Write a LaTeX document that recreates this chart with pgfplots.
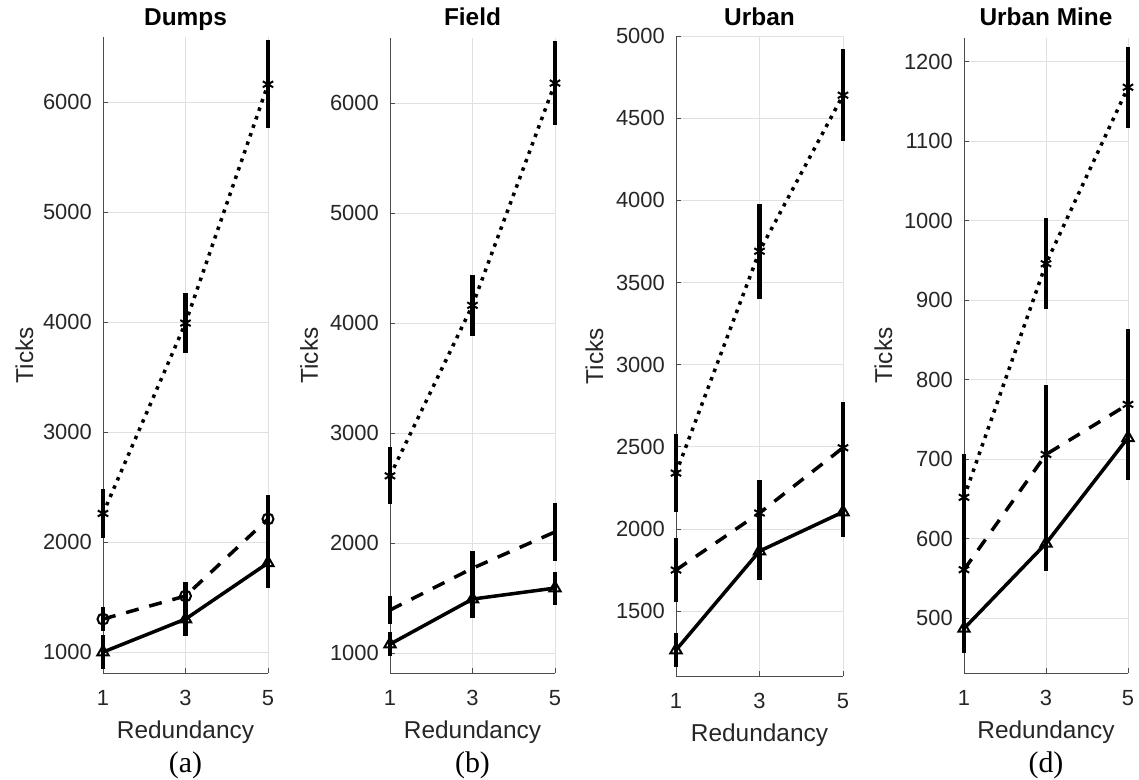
\documentclass[border=0pt]{standalone}
\usepackage{fontspec}
\setmainfont{Liberation Sans}
\newfontfamily\serifcap{Liberation Serif}
\usepackage{pgfplots}
\pgfplotsset{compat=1.18}
\definecolor{axc}{rgb}{0.3,0.3,0.3}
\definecolor{tickc}{rgb}{0.15,0.15,0.15}
\definecolor{gridc}{rgb}{0.88,0.88,0.88}
\pgfplotsset{
  panel/.style={
    scale only axis, clip=false,
    axis x line*=bottom, axis y line*=left,
    axis line style={draw=axc, line width=0.8bp, -},
    xmin=1, xmax=5, xtick={1,3,5},
    tick align=inside, major tick length=5bp,
    tick style={draw=axc, line width=0.8bp},
    grid=major, grid style={draw=gridc, line width=0.8bp},
    ticklabel style={font=\fontsize{22}{24}\selectfont, text=tickc, inner sep=0pt},
    /pgf/number format/assume math mode=true,
    /pgf/number format/1000 sep={},
    xticklabel style={anchor=base, yshift=-32bp},
    yticklabel style={anchor=east, xshift=-11bp},
    title style={font=\bfseries\fontsize{24.5}{26}\selectfont, anchor=base, inner sep=0pt},
    label style={font=\fontsize{24.5}{26}\selectfont, text=tickc, inner sep=0pt},
    xlabel=Redundancy, ylabel=Ticks,
    xlabel style={at={(axis description cs:0.5,0)}, anchor=base, yshift=-65bp},
  },
  eb/.style={error bars/.cd, y dir=both, y explicit, error mark=none,
    error bar style={solid, line width=4.5bp, black}},
  dotp/.style={black, line width=3.5bp, dash pattern=on 3.5bp off 5.5bp, mark=asterisk, mark size=6bp,
    mark options={solid, line width=2bp}},
  dashp/.style={black, line width=3.5bp, dash pattern=on 13bp off 11bp,
    mark options={solid, line width=2bp}},
  solp/.style={black, line width=3.5bp, solid, mark=triangle, mark size=6.5bp,
    mark options={solid, line width=2bp}},
}
\begin{document}
\begin{tikzpicture}
\useasboundingbox (0,0) rectangle (1139bp,780bp);
% (a) Dumps
\begin{axis}[panel, at={(103bp,107bp)}, anchor=south west, width=165bp, height=636bp,
  ymin=810, ymax=6590, ytick={1000,2000,...,6000},
  title=Dumps, title style={at={(axis description cs:0.5,1)}, yshift=5.5bp},
  ylabel style={at={(axis description cs:-0.4242,0.5)}, anchor=base}]
\addplot+[dotp, eb] coordinates {(1,2260) +- (0,220) (3,3990) +- (0,275) (5,6160) +- (0,400)};
\addplot+[dashp, mark=o, mark size=5.5bp, eb] coordinates {(1,1300) +- (0,110) (3,1510) +- (0,130) (5,2210) +- (0,220)};
\addplot+[solp, eb] coordinates {(1,1000) +- (0,155) (3,1300) +- (0,150) (5,1810) +- (0,230)};
\end{axis}
% (b) Field
\begin{axis}[panel, at={(390bp,107bp)}, anchor=south west, width=165bp, height=635bp,
  ymin=818, ymax=6590, ytick={1000,2000,...,6000},
  title=Field, title style={at={(axis description cs:0.5,1)}, yshift=6.5bp},
  ylabel style={at={(axis description cs:-0.4364,0.5)}, anchor=base}]
\addplot+[dotp, eb] coordinates {(1,2610) +- (0,260) (3,4160) +- (0,280) (5,6180) +- (0,380)};
\addplot+[dashp, no marks, eb] coordinates {(1,1390) +- (0,130) (3,1770) +- (0,160) (5,2100) +- (0,260)};
\addplot+[solp, eb] coordinates {(1,1080) +- (0,110) (3,1490) +- (0,170) (5,1590) +- (0,150)};
\end{axis}
% (c) Urban
\begin{axis}[panel, at={(676bp,104bp)}, anchor=south west, width=167bp, height=640bp,
  ymin=1105, ymax=5000, ytick={1500,2000,...,5000},
  title=Urban, title style={at={(axis description cs:0.5,1)}, yshift=4.5bp},
  ylabel style={at={(axis description cs:-0.437,0.5)}, anchor=base}]
\addplot+[dotp, eb] coordinates {(1,2340) +- (0,235) (3,3690) +- (0,290) (5,4640) +- (0,280)};
\addplot+[dashp, mark=asterisk, mark size=6bp, eb] coordinates {(1,1750) +- (0,195) (3,2097) +- (0,200) (5,2494) +- (0,280)};
\addplot+[solp, eb] coordinates {(1,1263) +- (0,105) (3,1865) +- (0,175) (5,2103) +- (0,155)};
\end{axis}
% (d) Urban Mine
\begin{axis}[panel, at={(964bp,107bp)}, anchor=south west, width=164bp, height=635bp,
  ymin=431, ymax=1230, ytick={500,600,...,1200},
  title=Urban Mine, title style={at={(axis description cs:0.5,1)}, yshift=6.5bp},
  ylabel style={at={(axis description cs:-0.439,0.5)}, anchor=base}]
\addplot+[dotp, eb] coordinates {(1,652) +- (0,55) (3,946) +- (0,57) (5,1168) +- (0,51)};
\addplot+[dashp, mark=asterisk, mark size=6bp, eb] coordinates {(1,561) +- (0,100) (3,706) +- (0,87) (5,769) +- (0,95)};
\addplot+[solp, eb] coordinates {(1,487) +- (0,31) (3,594) +- (0,35) (5,727) +- (0,51)};
\end{axis}
\node[font=\serifcap\fontsize{30}{32}\selectfont, anchor=base, inner sep=0pt] at (185.5bp,8bp) {(a)};
\node[font=\serifcap\fontsize{30}{32}\selectfont, anchor=base, inner sep=0pt] at (472.5bp,8bp) {(b)};
\node[font=\serifcap\fontsize{30}{32}\selectfont, anchor=base, inner sep=0pt] at (1046bp,8bp) {(d)};
\end{tikzpicture}
\end{document}
